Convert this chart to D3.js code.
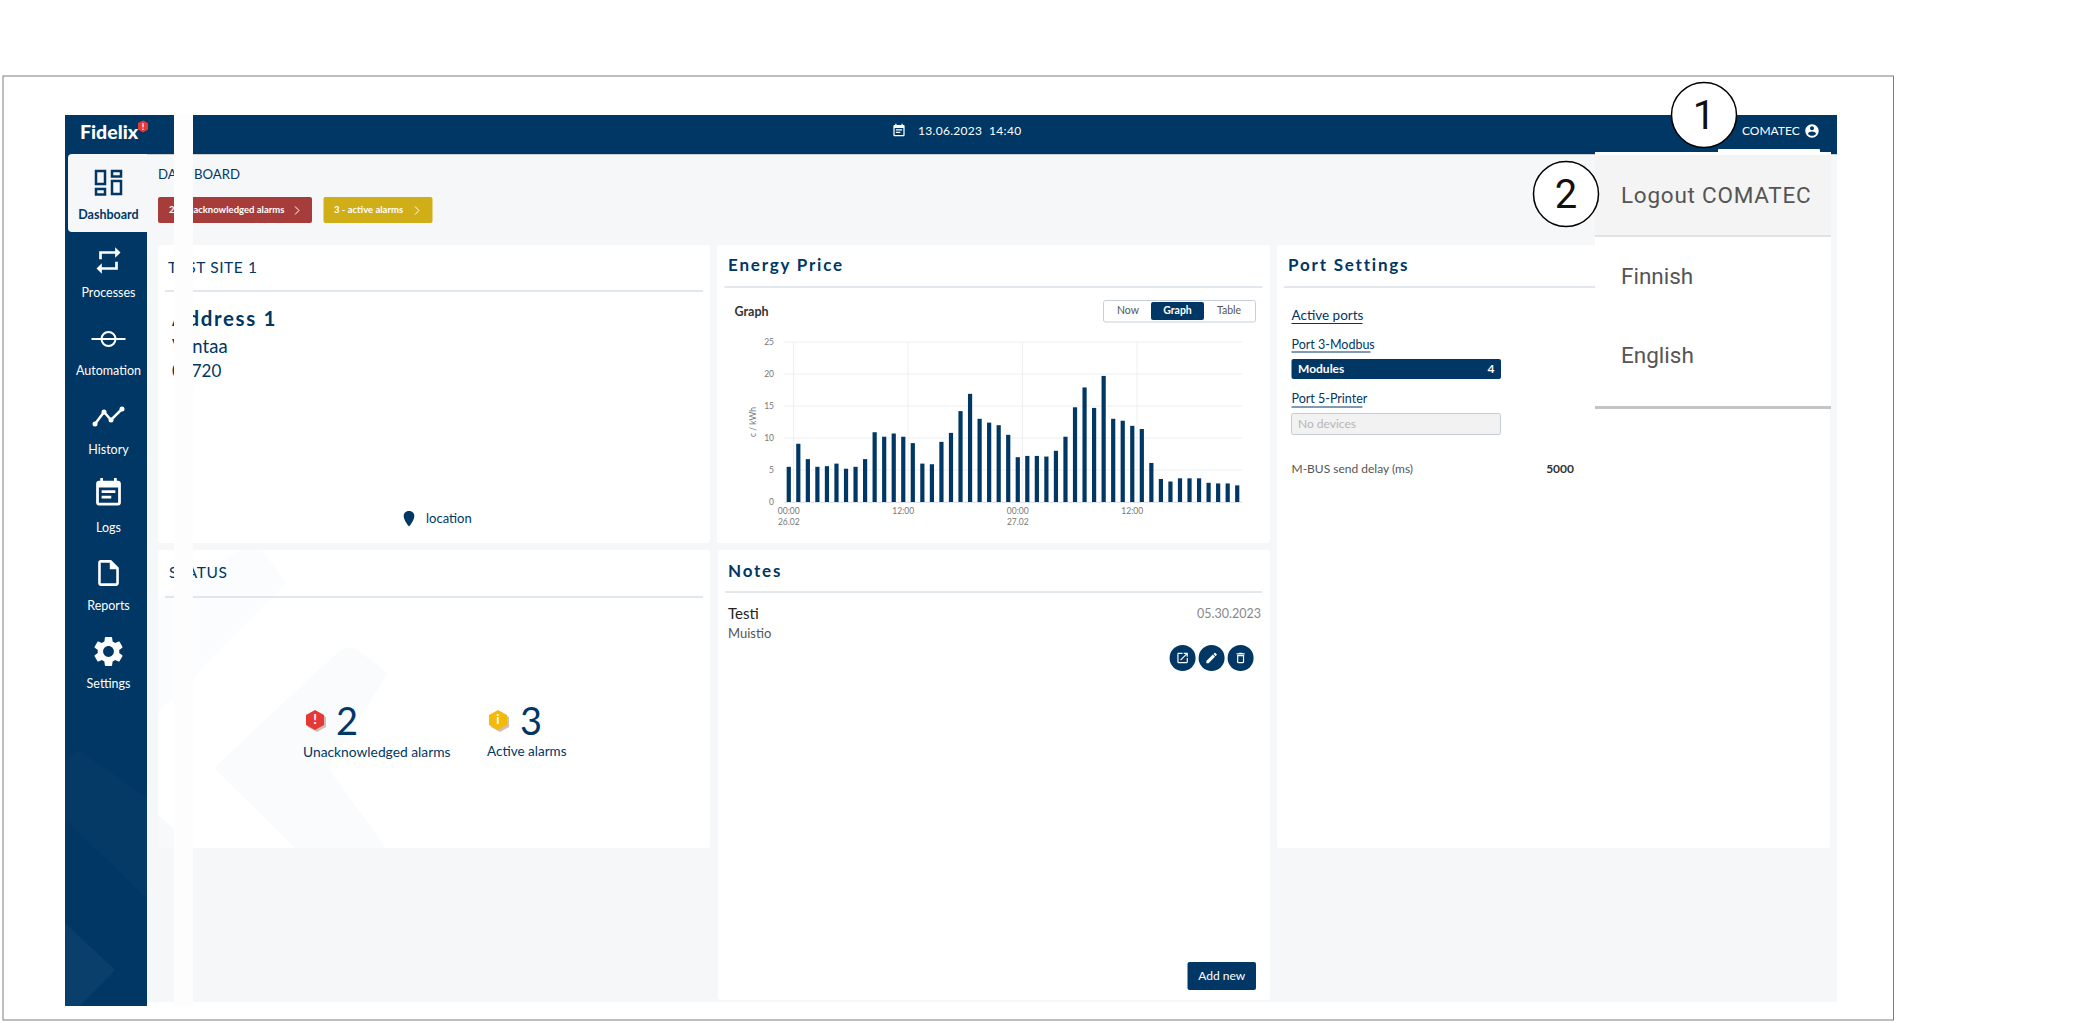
<!DOCTYPE html>
<meta charset="utf-8">
<head>
  <title>Fidelix dashboard</title>
</head>

<style>
body { margin: 0; background: #fff; }
svg { display: block; }
text { font-family: Lato, sans-serif; }
.grid line { stroke: #eeeff1; stroke-width: 1; }
.axis text { font-size: 8.5px; fill: #777; font-family: Lato, sans-serif; }
</style>

<body>
  <svg width="2083" height="1023"></svg>
  <script src="https://cdnjs.cloudflare.com/ajax/libs/d3/7.8.5/d3.min.js"></script>
  <script>

// chart data
var hours = ["00","01","02","03","04","05","06","07","08","09","10","11","12","13","14","15","16","17","18","19","20","21","22","23",
             "24","25","26","27","28","29","30","31","32","33","34","35","36","37","38","39","40","41","42","43","44","45","46","47"];
var prices = [5.5, 9.1, 6.7, 5.5, 5.6, 6.0, 5.2, 5.5, 6.7, 10.9,
              10.2, 10.7, 10.2, 9.2, 6.0, 5.9, 9.4, 10.8, 14.2, 16.9,
              13.0, 12.4, 12.0, 10.5, 7.0, 7.2, 7.2, 7.1, 8.0, 10.2,
              14.8, 17.9, 14.7, 19.7, 13.0, 12.7, 11.9, 11.4, 6.1, 3.6,
              3.2, 3.7, 3.7, 3.7, 3.0, 2.9, 2.9, 2.6];
var xTicks = ["00", "12", "24", "36"];
var xTickLabels = [["00:00", "26.02"], ["12:00", ""], ["00:00", "27.02"], ["12:00", ""]];
var yTicks = [0, 5, 10, 15, 20, 25];

var navLabels = ["Dashboard", "Processes", "Automation", "History", "Logs", "Reports", "Settings"];
var menuLabels = ["Logout COMATEC", "Finnish", "English"];

var navy = "#003764";
var svg = d3.select("svg");

function rect(x0, y0, x1, y1, fill, r) {
  return svg.append("rect").attr("x", x0).attr("y", y0)
    .attr("width", x1 - x0).attr("height", y1 - y0)
    .attr("rx", r || 0).attr("fill", fill);
}
function label(x, y, str, size, color, opts) {
  opts = opts || {};
  return svg.append("text").attr("x", x).attr("y", y - 0.8)
    .attr("dominant-baseline", "central")
    .attr("text-anchor", opts.anchor || "start")
    .attr("font-size", size).attr("fill", color)
    .attr("font-weight", opts.weight || 400)
    .attr("letter-spacing", opts.spacing || 0)
    .style("font-family", opts.font || null)
    .text(str);
}
function hline(x0, x1, y, color, w) {
  svg.append("line").attr("x1", x0).attr("x2", x1).attr("y1", y).attr("y2", y)
    .attr("stroke", color).attr("stroke-width", w || 1);
}
// material style icon, 24 unit box centred on cx,cy
function icon(d, cx, cy, size, color) {
  var k = size / 24;
  svg.append("path").attr("d", d).attr("fill", color).attr("fill-rule", "evenodd")
    .attr("transform", "translate(" + (cx - size / 2) + "," + (cy - size / 2) + ") scale(" + k + ")");
}
function poly(points, fill) {
  svg.append("polygon").attr("points", points.join(" ")).attr("fill", fill);
}
function chevron(cx, cy) {
  svg.append("polyline").attr("points", (cx - 2) + "," + (cy - 4) + " " + (cx + 2) + "," + cy + " " + (cx - 2) + "," + (cy + 4))
    .attr("fill", "none").attr("stroke", "#fff").attr("stroke-width", 1);
}

// page frame
svg.append("rect").attr("x", 3).attr("y", 76).attr("width", 1890.5).attr("height", 944)
  .attr("fill", "#fff").attr("stroke", "#7f7f7f").attr("stroke-width", 1);

// content background, header, sidebar
rect(147, 154, 1837, 1002, "#f6f7f9");
rect(65, 115, 1837, 154, navy);
rect(65, 154, 147, 1006, navy);
poly(["78,750", "147,797", "147,898", "65,820", "65,760"], "#053a67");
poly(["65,923", "115,970", "80,1006", "65,1006"], "#0a3f6b");
hline(147, 1837, 154.5, "#c9ced4", 1);

rect(68, 154, 147, 232, "#f6f7f9", 4);
rect(100, 154, 147, 232, "#f6f7f9");

// logo
label(80, 132, "Fidelix", 19.5, "#fff", {weight: 900});
svg.append("polygon").attr("points", "143,120.5 148,123 148,129.5 143,132.5 138,129.5 138,123").attr("fill", "#e53935");
label(143, 127, "!", 9, "#fff", {anchor: "middle", weight: 700});

// cards
var cards = [[158, 245, 710, 543], [717, 245, 1270, 543], [1277, 245, 1830, 848], [158, 550, 710, 848], [718, 550, 1270, 1000]];
cards.forEach(function(c) { rect(c[0], c[1], c[2], c[3], "#fff", 3); });

// watermark chevrons in the status card
poly(["214,768", "340,650", "353,647", "388,673", "328,768", "386,848", "295,848"], "#fafbfc");
poly(["158,600", "240,550", "262,550", "286,583", "158,713"], "#fbfcfd");
poly(["158,815", "195,848", "158,848"], "#f8f9fa");

// breadcrumb and alarm buttons
label(158, 175, "DASHBOARD", 13.2, navy);
rect(158, 197, 312, 223, "#a63d3a", 2);
rect(323.5, 197, 432.5, 223, "#cfae17", 2);
label(169, 210, "2 - unacknowledged alarms", 9.5, "#fff", {weight: 700});
label(334, 210, "3 - active alarms", 9.5, "#fff", {weight: 700});
chevron(297, 210.5);
chevron(417, 210.5);

// test site card
label(168, 268, "TEST SITE 1", 15.5, navy, {spacing: 0.6});
hline(165, 703, 291, "#c5d0da");
label(172, 319, "Address 1", 20.5, navy, {weight: 700, spacing: 1.6});
label(172, 347, "Vantaa", 18.5, navy);
label(172, 371, "01720", 17, navy);
svg.append("path").attr("d", "M409 511c3.6 0 5.3 2.4 5.3 5 0 3.6-3.3 8.2-5.3 10.5-2-2.3-5.3-6.9-5.3-10.5 0-2.6 1.7-5 5.3-5z").attr("fill", navy);
label(426, 519, "location", 13, navy);

// energy price card
label(728, 265, "Energy Price", 17, navy, {weight: 700, spacing: 1.8});
hline(724.5, 1262.5, 287, "#c5d0da");
label(734.5, 312, "Graph", 12.5, "#333", {weight: 700});

svg.append("rect").attr("x", 1103.5).attr("y", 300.5).attr("width", 152).attr("height", 21.5)
  .attr("fill", "#fff").attr("stroke", "#c5d0da").attr("rx", 2);
rect(1151, 302, 1204, 320, navy, 2);
label(1128, 311, "Now", 10.5, "#555", {anchor: "middle"});
label(1177.5, 311, "Graph", 10.5, "#fff", {anchor: "middle", weight: 700});
label(1229, 311, "Table", 10.5, "#555", {anchor: "middle"});

// bar chart
var x = d3.scaleBand().domain(hours).range([784, 1242]).paddingInner(0.56).paddingOuter(0.28);
var y = d3.scaleLinear().domain([0, 25]).range([502, 342]);

var gridY = svg.append("g").attr("class", "grid");
gridY.selectAll("line").data(yTicks).enter().append("line")
  .attr("x1", 784).attr("x2", 1242)
  .attr("y1", function(d) { return y(d); })
  .attr("y2", function(d) { return y(d); });

var gridX = svg.append("g").attr("class", "grid");
gridX.selectAll("line").data(xTicks).enter().append("line")
  .attr("x1", function(d) { return x(d) + x.bandwidth() / 2 + x.step() / 2; })
  .attr("x2", function(d) { return x(d) + x.bandwidth() / 2 + x.step() / 2; })
  .attr("y1", 342).attr("y2", 502);

svg.append("g").selectAll("rect").data(prices).enter().append("rect")
  .attr("x", function(d, i) { return x(hours[i]); })
  .attr("y", function(d) { return y(d); })
  .attr("width", x.bandwidth())
  .attr("height", function(d) { return y(0) - y(d); })
  .attr("fill", navy);

var yAxis = svg.append("g").attr("class", "axis").attr("transform", "translate(784,0)")
  .call(d3.axisLeft(y).tickValues(yTicks).tickSize(0).tickPadding(10));
yAxis.select(".domain").remove();

var xAxis = svg.append("g").attr("class", "axis").attr("transform", "translate(0,502)")
  .call(d3.axisBottom(x).tickValues(xTicks).tickSize(0).tickPadding(6)
    .tickFormat(function() { return ""; }));
xAxis.select(".domain").attr("stroke", "#dfe3ee");
xAxis.selectAll(".tick text").each(function(d, i) {
  var t = d3.select(this);
  t.append("tspan").attr("x", 0).attr("dy", "0.7em").text(xTickLabels[i][0]);
  t.append("tspan").attr("x", 0).attr("dy", "1.25em").text(xTickLabels[i][1]);
});

svg.append("text").attr("transform", "translate(753,422) rotate(-90)")
  .attr("text-anchor", "middle").attr("dominant-baseline", "central")
  .attr("font-size", 8.5).attr("fill", "#777")
  .text("c / kWh");

// port settings card
label(1288, 265, "Port Settings", 17, navy, {weight: 700, spacing: 1.8});
hline(1284, 1595, 287, "#c5d0da");
label(1291.5, 316, "Active ports", 13.5, navy);
hline(1291.5, 1362.5, 323.5, navy);
label(1291.5, 345, "Port 3-Modbus", 12.5, navy);
hline(1291.5, 1370.5, 352, navy);
rect(1291.5, 359, 1501, 379, navy, 2);
label(1298, 369.5, "Modules", 12, "#fff", {weight: 700});
label(1491, 369.5, "4", 12, "#fff", {weight: 700, anchor: "middle"});
label(1291.5, 399.5, "Port 5-Printer", 12.5, navy);
hline(1291.5, 1362.5, 407, navy);
svg.append("rect").attr("x", 1291.5).attr("y", 413.5).attr("width", 209).attr("height", 21)
  .attr("fill", "#f2f2f2").attr("stroke", "#c5ccd3").attr("rx", 2);
label(1298, 424, "No devices", 12, "#b5b5b5");
label(1291.5, 469, "M-BUS send delay (ms)", 12, "#555");
label(1574, 469, "5000", 12, "#333", {anchor: "end", weight: 700});

// status card
label(169, 573, "STATUS", 15.5, navy, {spacing: 0.6});
hline(165, 703, 597, "#c5d0da");
function badge(cx, cy, color, mark) {
  var hex = function(dx, dy) {
    return [[0, -10], [9, -5], [9, 5], [0, 10], [-9, 5], [-9, -5]].map(function(p) {
      return (cx + dx + p[0]) + "," + (cy + dy + p[1]);
    }).join(" ");
  };
  svg.append("polygon").attr("points", hex(2, 2)).attr("fill", "#cdbfb5");
  svg.append("polygon").attr("points", hex(0, 0)).attr("fill", color);
  label(cx, cy, mark, 13, "#fff", {anchor: "middle", weight: 700});
}
badge(315, 720, "#e53935", "!");
badge(498, 720, "#f4b90d", "i");
label(347, 721, "2", 38, navy, {anchor: "middle"});
label(531, 721, "3", 38, navy, {anchor: "middle"});
label(303, 752, "Unacknowledged alarms", 13.8, navy);
label(487, 752, "Active alarms", 13.5, navy);

// notes card
label(728, 571, "Notes", 17, navy, {weight: 700, spacing: 1.8});
hline(725, 1262, 592, "#c5d0da");
label(728, 614, "Testi", 15, "#222");
label(1261, 614, "05.30.2023", 12.5, "#888", {anchor: "end"});
label(728, 634, "Muistio", 13, "#555");

var noteIcons = [
  "M19 19H5V5h7V3H5c-1.11 0-2 .9-2 2v14c0 1.1.89 2 2 2h14c1.1 0 2-.9 2-2v-7h-2v7zM14 3v2h3.59l-9.83 9.83 1.41 1.41L19 6.41V10h2V3h-7z",
  "M3 17.25V21h3.75L17.81 9.94l-3.75-3.75L3 17.25zM20.71 7.04c.39-.39.39-1.02 0-1.41l-2.34-2.34c-.39-.39-1.02-.39-1.41 0l-1.83 1.83 3.75 3.75 1.83-1.83z",
  "M6 19c0 1.1.9 2 2 2h8c1.1 0 2-.9 2-2V7H6v12zM8 9h8v10H8V9zm7.5-5l-1-1h-5l-1 1H5v2h14V4z"
];
[1182.6, 1211.6, 1240.6].forEach(function(cx, i) {
  svg.append("circle").attr("cx", cx).attr("cy", 658).attr("r", 13).attr("fill", navy);
  icon(noteIcons[i], cx, 658, 14, "#fff");
});
rect(1187.5, 962, 1256, 990, navy, 2);
label(1221.7, 976, "Add new", 12, "#fff", {anchor: "middle"});

// sidebar
var navY = [215, 293, 371.5, 450, 528, 606, 684];
navLabels.forEach(function(t, i) {
  label(108.5, navY[i], t, 12.5, i == 0 ? navy : "#fff", {anchor: "middle", weight: i == 0 ? 700 : 400});
});
var cx = 108.5;
// dashboard tiles
[[95, 170, 11, 15], [111, 170, 11, 7.5], [95, 188, 11, 7.5], [111, 180, 11, 15]].forEach(function(b) {
  svg.append("rect").attr("x", b[0] + 1).attr("y", b[1] + 1).attr("width", b[2] - 2).attr("height", b[3] - 2)
    .attr("fill", "none").attr("stroke", navy).attr("stroke-width", 2.5);
});
icon("M7 7h10v3l4-4-4-4v3H5v6h2V7zm10 10H7v-3l-4 4 4 4v-3h12v-6h-2v4z", cx, 260.5, 32, "#fff");
svg.append("circle").attr("cx", cx).attr("cy", 339).attr("r", 7).attr("fill", "none").attr("stroke", "#fff").attr("stroke-width", 2);
hline(91.5, 125.5, 339, "#fff", 2);
svg.append("polyline").attr("points", "95,424 104,412 111,420 122,409")
  .attr("fill", "none").attr("stroke", "#fff").attr("stroke-width", 2.5);
[[95, 424], [104, 412], [111, 420], [122, 409]].forEach(function(p) {
  svg.append("circle").attr("cx", p[0]).attr("cy", p[1]).attr("r", 2.5).attr("fill", "#fff");
});
icon("M17 10H7v2h10v-2zm2-7h-1V1h-2v2H8V1H6v2H5c-1.11 0-1.99.9-1.99 2L3 19c0 1.1.89 2 2 2h14c1.1 0 2-.9 2-2V5c0-1.1-.9-2-2-2zm0 16H5V8h14v11zm-5-5H7v2h7v-2z", cx, 493, 33, "#fff");
icon("M14 2H6c-1.1 0-1.99.9-1.99 2L4 20c0 1.1.89 2 1.99 2H18c1.1 0 2-.9 2-2V8l-6-6zM6 20V4h7v5h5v11H6z", cx, 573, 31, "#fff");
icon("M19.14 12.94c.04-.3.06-.61.06-.94 0-.32-.02-.64-.07-.94l2.03-1.58c.18-.14.23-.41.12-.61l-1.92-3.32c-.12-.22-.37-.29-.59-.22l-2.39.96c-.5-.38-1.03-.7-1.62-.94l-.36-2.54c-.04-.24-.24-.41-.48-.41h-3.84c-.24 0-.43.17-.47.41l-.36 2.54c-.59.24-1.13.57-1.62.94l-2.39-.96c-.22-.08-.47 0-.59.22L2.74 8.87c-.12.21-.08.47.12.61l2.03 1.58c-.05.3-.09.63-.09.94s.02.64.07.94l-2.03 1.58c-.18.14-.23.41-.12.61l1.92 3.32c.12.22.37.29.59.22l2.39-.96c.5.38 1.03.7 1.62.94l.36 2.54c.05.24.24.41.48.41h3.84c.24 0 .44-.17.47-.41l.36-2.54c.59-.24 1.13-.56 1.62-.94l2.39.96c.22.08.47 0 .59-.22l1.92-3.32c.12-.22.07-.47-.12-.61l-2.01-1.58zM12 15.6c-1.98 0-3.6-1.62-3.6-3.6s1.62-3.6 3.6-3.6 3.6 1.62 3.6 3.6-1.62 3.6-3.6 3.6z", cx, 651.5, 36, "#fff");

// header contents
icon("M17 10H7v2h10v-2zm2-7h-1V1h-2v2H8V1H6v2H5c-1.11 0-1.99.9-1.99 2L3 19c0 1.1.89 2 2 2h14c1.1 0 2-.9 2-2V5c0-1.1-.9-2-2-2zm0 16H5V8h14v11zm-5-5H7v2h7v-2z", 899, 130.5, 15, "#fff");
label(918, 131, "13.06.2023  14:40", 12, "#fff", {spacing: 0.3}).style("white-space", "pre");
label(1742, 131, "COMATEC", 12, "#fff");
icon("M12 2C6.48 2 2 6.48 2 12s4.48 10 10 10 10-4.48 10-10S17.52 2 12 2zm0 3c1.66 0 3 1.34 3 3s-1.34 3-3 3-3-1.34-3-3 1.34-3 3-3zm0 14.2c-2.5 0-4.71-1.28-6-3.22.03-1.99 4-3.08 6-3.08 1.99 0 5.97 1.09 6 3.08-1.29 1.94-3.5 3.22-6 3.22z", 1812, 131, 16, "#fff");

// the pale strip that runs over the screenshot
rect(174, 115, 193, 1006, "#fdfdfd");

// language popup
rect(1718, 149, 1820, 153, "#fff", 1);
rect(1595, 152, 1831, 406, "#fff");
rect(1595, 155, 1831, 235, "#f4f4f4");
hline(1595, 1831, 236, "#e2e2e2", 2);
hline(1595, 1831, 407.5, "#c4c4c4", 3);
var menuY = [195.5, 276.5, 356];
menuLabels.forEach(function(t, i) {
  label(1621, menuY[i], t, 22.5, "#555", {font: "Roboto, sans-serif", spacing: i == 0 ? 0.75 : 0});
});

// numbered callouts
[[1704, 115, "1"], [1566, 194, "2"]].forEach(function(c) {
  svg.append("circle").attr("cx", c[0]).attr("cy", c[1]).attr("r", 32.5)
    .attr("fill", "#fff").attr("stroke", "#000").attr("stroke-width", 1.5);
  label(c[0], c[1] + 1.5, c[2], 40, "#111", {anchor: "middle", font: "Roboto, sans-serif"});
});

  </script>
</body>
</html>
